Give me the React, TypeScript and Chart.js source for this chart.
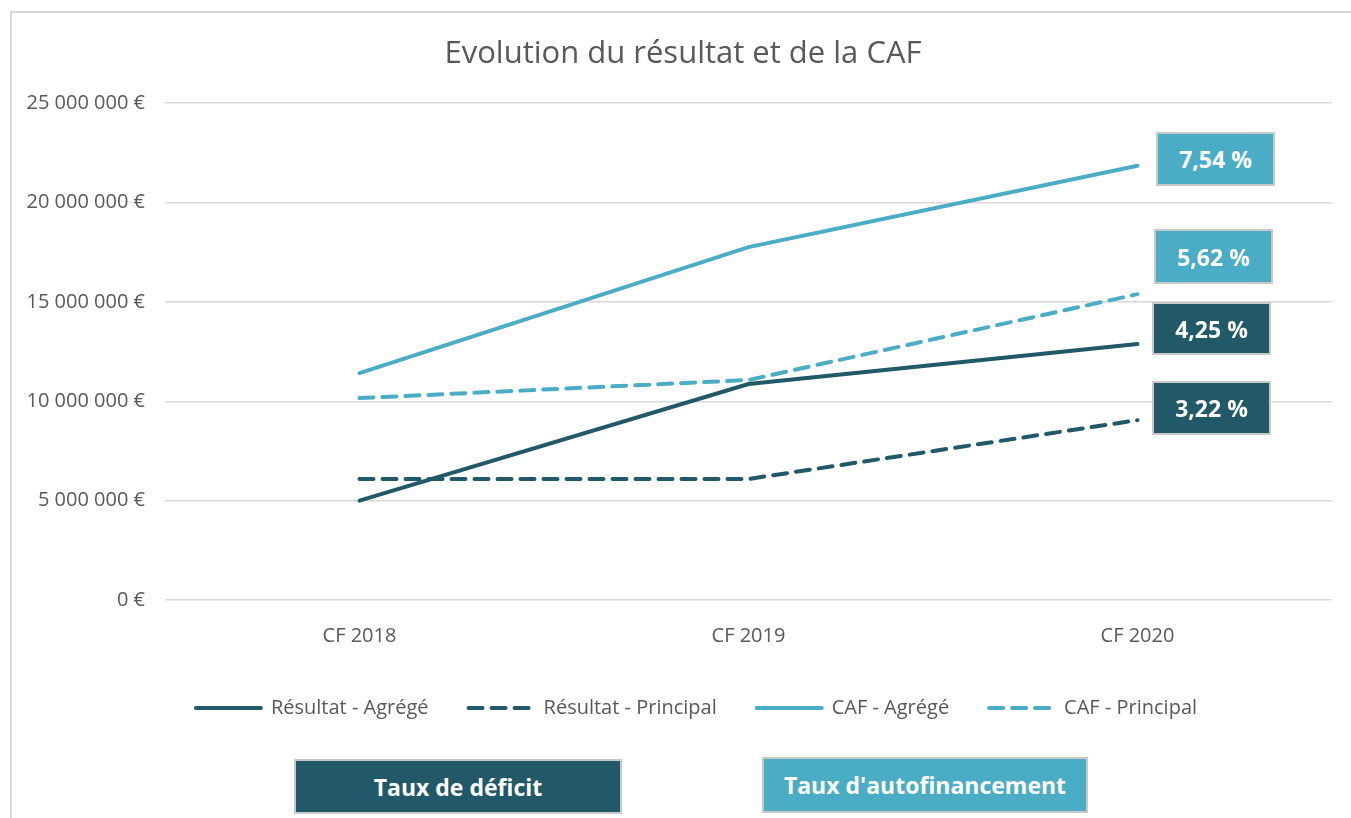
import React, { useEffect, useRef } from "react";
import { Chart, registerables } from "chart.js";

Chart.register(...registerables);

const categories = ["CF 2018", "CF 2019", "CF 2020"];
const resultatAgrege = [5000000, 10870000, 12880000];
const resultatPrincipal = [6090000, 6090000, 9050000];
const cafAgrege = [11420000, 17760000, 21850000];
const cafPrincipal = [10160000, 11070000, 15390000];
const seriesNames = ["Résultat - Agrégé", "Résultat - Principal", "CAF - Agrégé", "CAF - Principal"];
const rateLabels = ["7,54 %", "5,62 %", "4,25 %", "3,22 %"];
const footerLabels = ["Taux de déficit", "Taux d'autofinancement"];
const yTicks = { min: 0, max: 25000000, step: 5000000 };

const DARK = "#215968";
const LIGHT = "#4BACC6";
const TEXT = "#595959";
const FONT = "'Open Sans', 'DejaVu Sans', sans-serif";
const DASH = [14, 9];

function fmt(v: number): string {
  return String(Math.round(v)).replace(/\B(?=(\d{3})+(?!\d))/g, " ") + " €";
}

const boxStyle = (bg: string, left: number, top: number, w: number, h: number, size: number): React.CSSProperties => ({
  position: "absolute",
  left,
  top,
  width: w,
  height: h,
  boxSizing: "border-box",
  background: bg,
  border: "2px solid #C9C9C9",
  color: "#FFFFFF",
  fontFamily: FONT,
  fontWeight: 700,
  fontSize: size,
  display: "flex",
  alignItems: "center",
  justifyContent: "center",
  whiteSpace: "nowrap",
});

const blockShift = {
  id: "blockShift",
  afterLayout(chart: any) {
    if (chart.titleBlock) chart.titleBlock.left += 34;
    if (chart.legend) chart.legend.left += 61;
  },
};

export default function App() {
  const ref = useRef<HTMLCanvasElement | null>(null);

  useEffect(() => {
    if (!ref.current) return;
    const chart = new Chart(ref.current, {
      type: "line",
      data: {
        labels: categories,
        datasets: [
          { label: seriesNames[0], data: resultatAgrege, borderColor: DARK, backgroundColor: DARK, borderWidth: 4, borderCapStyle: "round", pointRadius: 0, tension: 0 },
          { label: seriesNames[1], data: resultatPrincipal, borderColor: DARK, backgroundColor: DARK, borderWidth: 4, borderDash: DASH, borderCapStyle: "round", pointRadius: 0, tension: 0 },
          { label: seriesNames[2], data: cafAgrege, borderColor: LIGHT, backgroundColor: LIGHT, borderWidth: 4, borderCapStyle: "round", pointRadius: 0, tension: 0 },
          { label: seriesNames[3], data: cafPrincipal, borderColor: LIGHT, backgroundColor: LIGHT, borderWidth: 4, borderDash: DASH, borderCapStyle: "round", pointRadius: 0, tension: 0 },
        ],
      },
      options: {
        responsive: false,
        animation: false,
        devicePixelRatio: 1,
        layout: { padding: { top: 10, left: 0, right: 19, bottom: 0 } },
        plugins: {
          tooltip: { enabled: false },
          title: {
            display: true,
            text: "Evolution du résultat et de la CAF",
            color: TEXT,
            font: { family: FONT, size: 31, weight: "normal" },
            padding: { top: 26, bottom: 30 },
          },
          legend: {
            position: "bottom",
            labels: {
              usePointStyle: true,
              pointStyle: "line",
              pointStyleWidth: 65,
              boxHeight: 20,
              padding: 40,
              color: TEXT,
              font: { family: FONT, size: 20 },
              generateLabels: (c: any) => {
                const items = Chart.defaults.plugins.legend.labels.generateLabels(c);
                return items.map((it: any, i: number) => {
                  const ds: any = c.data.datasets[i];
                  return {
                    ...it,
                    lineWidth: 4,
                    lineDash: ds.borderDash || [],
                    lineCap: "round",
                    strokeStyle: ds.borderColor,
                    fillStyle: ds.borderColor,
                    pointStyle: "line",
                  };
                });
              },
            },
          },
        },
        scales: {
          x: {
            offset: true,
            grid: { display: false },
            border: { display: false },
            ticks: { color: TEXT, font: { family: FONT, size: 20 }, padding: 16, maxRotation: 0 },
            afterFit: (s: any) => { s.height = 58; },
          },
          y: {
            min: yTicks.min,
            max: yTicks.max,
            grid: { color: "#D9D9D9", lineWidth: 1.5, drawTicks: false },
            border: { display: false },
            ticks: { stepSize: yTicks.step, color: TEXT, font: { family: FONT, size: 20 }, padding: 20, callback: (v: any) => fmt(Number(v)) },
            afterFit: (s: any) => { s.width = 165; },
          },
        },
      },
      plugins: [blockShift],
    } as any);
    return () => chart.destroy();
  }, []);

  return (
    <div style={{ position: "absolute", left: 0, top: 0, width: 1351, height: 818, overflow: "hidden", background: "#FFFFFF" }}>
      <div style={{ position: "absolute", left: 10, top: 11, width: 1400, height: 900, border: "2px solid #D9D9D9", boxSizing: "border-box" }} />
      <canvas ref={ref} width={1351} height={728} style={{ position: "absolute", left: 0, top: 0, width: 1351, height: 728 }} />
      <div style={boxStyle(LIGHT, 1156, 132, 119, 54, 23)}>{rateLabels[0]}</div>
      <div style={boxStyle(LIGHT, 1154, 229, 119, 55, 23)}>{rateLabels[1]}</div>
      <div style={boxStyle(DARK, 1152, 302, 119, 53, 23)}>{rateLabels[2]}</div>
      <div style={boxStyle(DARK, 1152, 381, 119, 54, 23)}>{rateLabels[3]}</div>
      <div style={boxStyle(DARK, 294, 759, 328, 55, 23)}>{footerLabels[0]}</div>
      <div style={boxStyle(LIGHT, 762, 757, 326, 56, 23)}>{footerLabels[1]}</div>
    </div>
  );
}
